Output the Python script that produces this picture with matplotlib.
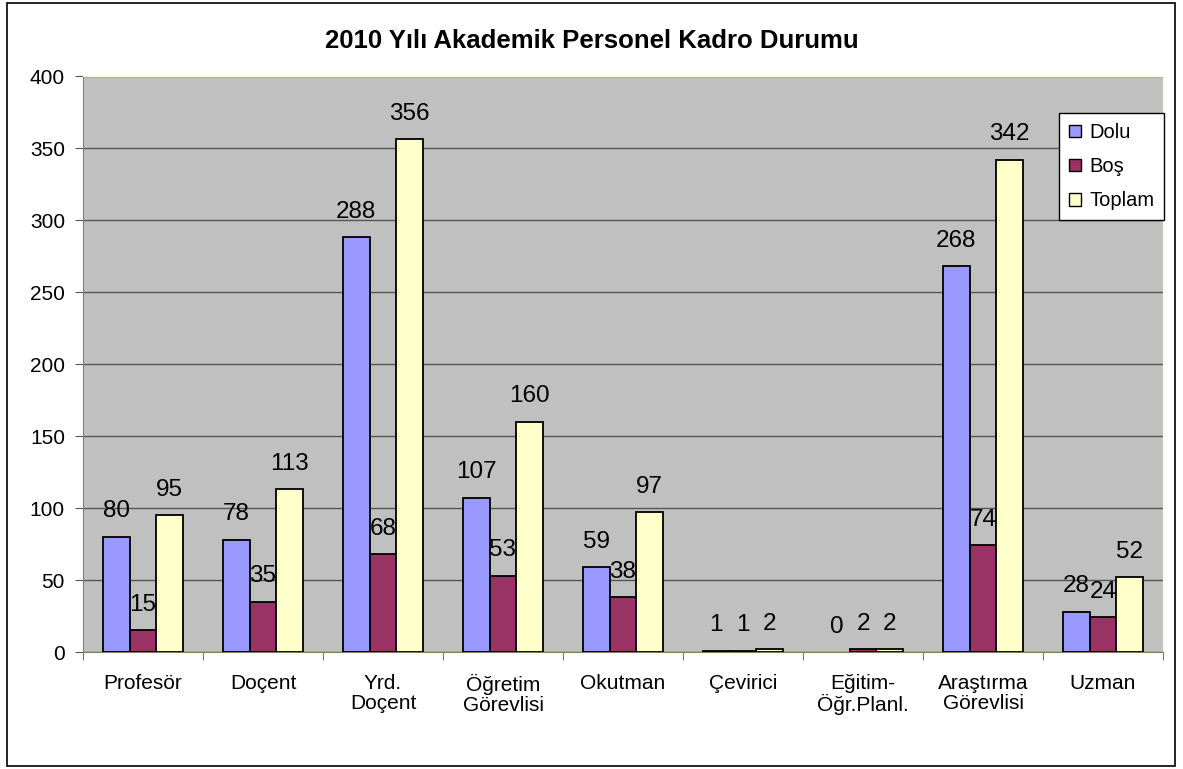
import numpy as np
import matplotlib.pyplot as plt
from matplotlib.patches import Rectangle

plt.rcParams['font.family'] = ['Liberation Sans', 'DejaVu Sans']

categories = ['Profesör', 'Doçent', 'Yrd.\nDoçent', 'Öğretim\nGörevlisi', 'Okutman',
              'Çevirici', 'Eğitim-\nÖğr.Planl.', 'Araştırma\nGörevlisi', 'Uzman']
dolu = [80, 78, 288, 107, 59, 1, 0, 268, 28]
bos = [15, 35, 68, 53, 38, 1, 2, 74, 24]
toplam = [95, 113, 356, 160, 97, 2, 2, 342, 52]

series = [('Dolu', dolu, '#9999FF'), ('Boş', bos, '#993366'), ('Toplam', toplam, '#FFFFCC')]

fig = plt.figure(figsize=(11.83, 7.69), dpi=100)
fig.patch.set_facecolor('white')
fig.patches.append(Rectangle((7/1183, 3/769), 1168/1183, 763/769, transform=fig.transFigure,
                             fill=False, edgecolor='black', linewidth=1.2))

ax = fig.add_axes([83/1183, 1 - 652/769, 1080/1183, 576/769])
ax.set_facecolor('#C0C0C0')

x = np.arange(len(categories))
w = 0.2222
for i, (name, vals, col) in enumerate(series):
    lw = [0 if v == 0 else 1.3 for v in vals]
    ax.bar(x + (i - 1) * w, vals, w, color=col, edgecolor='black', linewidth=lw, label=name, zorder=3)
    for xi, v in zip(x, vals):
        ax.annotate(str(v), (xi + (i - 1) * w, v), xytext=(0, 14), textcoords='offset points',
                    ha='center', va='baseline', fontsize=17.5, zorder=4)

ax.set_xlim(-0.5, len(categories) - 0.5)
ax.set_ylim(0, 400)
ax.set_yticks(range(0, 401, 50))
ax.yaxis.grid(True, color='#555555', linewidth=1.0, zorder=0)
ax.set_axisbelow(True)

ax.set_xticks(x)
ax.set_xticklabels(categories, fontsize=15, linespacing=1.05)
ax.set_xticks(np.arange(-0.5, len(categories), 1), minor=True)
ax.tick_params(axis='x', which='major', length=0, pad=16)
ax.tick_params(axis='x', which='minor', length=6, color='#555555')
ax.tick_params(axis='y', length=6, pad=7, labelsize=15, color='#555555')

for s in ['left', 'bottom']:
    ax.spines[s].set_color('#808060')
for s in ['top', 'right']:
    ax.spines[s].set_color('#FFFFD0')

leg = ax.legend(loc='upper left', bbox_to_anchor=(0.9037, 0.9358), borderaxespad=0,
                fontsize=14.5, frameon=True, fancybox=False, framealpha=1, handlelength=0.6,
                handleheight=0.6, handletextpad=0.4, labelspacing=0.75, borderpad=0.5)
leg.get_frame().set_edgecolor('black')
leg.get_frame().set_linewidth(1.0)
leg.set_zorder(10)
for h in leg.legend_handles:
    h.set_linewidth(1.0)

fig.text(0.5, 1 - 41/769, '2010 Yılı Akademik Personel Kadro Durumu', ha='center', va='center',
         fontsize=18.5, fontweight='bold')

fig.savefig('out.png', dpi=100)
